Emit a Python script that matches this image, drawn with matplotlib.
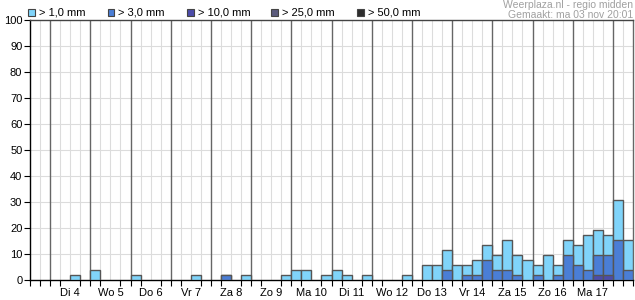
import matplotlib
matplotlib.use("Agg")
import matplotlib.pyplot as plt
from matplotlib.patches import Rectangle

plt.rcParams['font.family'] = ['Liberation Sans', 'DejaVu Sans']

# Day labels (each day = 4 six-hour slots); chart starts Ma 3 12:00
day_labels = ["Di 4", "Wo 5", "Do 6", "Vr 7", "Za 8", "Zo 9", "Ma 10", "Di 11",
              "Wo 12", "Do 13", "Vr 14", "Za 15", "Zo 16", "Ma 17"]

# probability (%) of precipitation per 6-hour slot (60 slots)
p_gt1 = [0, 0, 0, 0, 1.9, 0, 3.8, 0, 0, 0,
         1.9, 0, 0, 0, 0, 0, 1.9, 0, 0, 1.9,
         0, 1.9, 0, 0, 0, 1.9, 3.8, 3.8, 0, 1.9,
         3.8, 1.9, 0, 1.9, 0, 0, 0, 1.9, 0, 5.8,
         5.8, 11.5, 5.8, 5.8, 7.7, 13.5, 9.6, 15.4, 9.6, 7.7,
         5.8, 9.6, 5.8, 15.4, 13.5, 17.3, 19.2, 17.3, 30.8, 15.4]
p_gt3 = [0, 0, 0, 0, 0, 0, 0, 0, 0, 0,
         0, 0, 0, 0, 0, 0, 0, 0, 0, 1.9,
         0, 0, 0, 0, 0, 0, 0, 0, 0, 0,
         0, 0, 0, 0, 0, 0, 0, 0, 0, 0,
         0, 3.8, 0, 1.9, 1.9, 7.7, 3.8, 3.8, 1.9, 0,
         1.9, 0, 1.9, 9.6, 5.8, 3.8, 9.6, 9.6, 15.4, 3.8]
p_gt10 = [0] * 56 + [1.9, 1.9, 0, 0]

legend_labels = ["> 1,0 mm", "> 3,0 mm", "> 10,0 mm", "> 25,0 mm", "> 50,0 mm"]
colors = ["#80d4fa", "#4a7ed6", "#4c4caa", "#5a5a7c", "#2c2c2c"]

W, H = 635, 300
fig = plt.figure(figsize=(W / 100, H / 100), dpi=100)
ax = fig.add_axes([30 / W, 1 - 280 / H, 603 / W, 260 / H])

n = len(p_gt1)
ax.set_xlim(0, n)
ax.set_ylim(0, 100)

# grid
for x in range(1, n):
    is_day = (x - 2) % 4 == 0
    ax.axvline(x, color="#666666" if is_day else "#dcdcdc", lw=1.0 if is_day else 0.8,
               zorder=1)
for y in range(10, 100, 10):
    ax.axhline(y, color="#dcdcdc", lw=0.8, zorder=0.5)

# bars
for series, col in zip([p_gt1, p_gt3, p_gt10], colors[:3]):
    xs = [i + 0.5 for i, v in enumerate(series) if v > 0]
    hs = [v for v in series if v > 0]
    ax.bar(xs, hs, width=1.0, color=col, edgecolor="#555555", linewidth=1.0, zorder=3)

ax.set_yticks(range(0, 101, 10))
ax.tick_params(axis="y", length=4, width=0.8, labelsize=8, pad=1.5, colors="black")
ax.set_xticks([4 + 4 * k for k in range(len(day_labels))])
ax.set_xticklabels(day_labels, fontsize=8)
ax.set_xticks(range(0, n + 1), minor=True)
ax.tick_params(axis="x", which="major", length=0, pad=6)
ax.tick_params(axis="x", which="minor", length=4, width=0.8)
for s in ax.spines.values():
    s.set_color("black")
    s.set_linewidth(1.0)
ax.spines["top"].set_color("#444444")
ax.spines["right"].set_color("#666666")

# legend
sq_x = [28, 107.5, 187.5, 271, 357]
for x0, lab, col in zip(sq_x, legend_labels, colors):
    fig.patches.append(Rectangle((x0 / W, 1 - 16 / H), 7 / W, 7 / H,
                                 transform=fig.transFigure, facecolor=col,
                                 edgecolor="#444444", linewidth=0.8))
    fig.text((x0 + 11) / W, 1 - 12.5 / H, lab, fontsize=8, va="center", ha="left")

fig.text(633 / W, 1 - 5 / H, "Weerplaza.nl - regio midden", fontsize=7.5,
         color="#a0a0a0", ha="right", va="center")
fig.text(633 / W, 1 - 15 / H, "Gemaakt: ma 03 nov 20:01", fontsize=7.5,
         color="#a0a0a0", ha="right", va="center")

fig.savefig("out.png", dpi=100)
